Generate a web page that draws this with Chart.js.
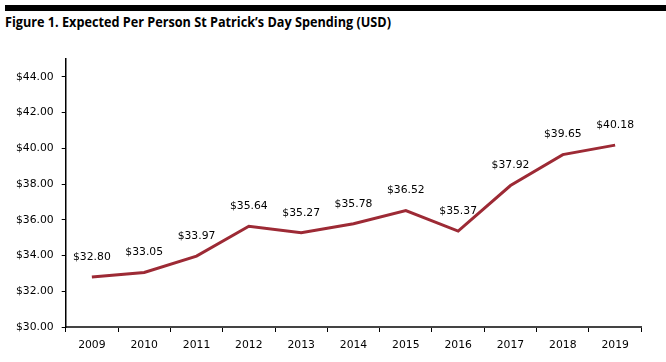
<!DOCTYPE html>
<html>
<head>
<meta charset="utf-8">
<script src="https://cdn.jsdelivr.net/npm/chart.js@4"></script>
<style>
  html, body { margin: 0; padding: 0; background: #fff; }
  #wrap { position: relative; width: 666px; height: 362px; overflow: hidden; }
  #bar { position: absolute; left: 5px; top: 5px; width: 661px; height: 6px; background: #000; }
  #title { position: absolute; left: 5px; top: 12px; font-family: "Open Sans", sans-serif; font-weight: bold; font-size: 14px; color: #000; white-space: nowrap; transform-origin: 0 0; }
  canvas { position: absolute; left: 0; top: 0; }
</style>
</head>
<body>
<div id="wrap">
  <div id="bar"></div>
  <div id="title">Figure 1. Expected Per Person St Patrick’s Day Spending (USD)</div>
  <canvas id="c" width="666" height="362"></canvas>
</div>
<script>
const years = ['2009','2010','2011','2012','2013','2014','2015','2016','2017','2018','2019'];
const spending = [32.80, 33.05, 33.97, 35.64, 35.27, 35.78, 36.52, 35.37, 37.92, 39.65, 40.18];
const yTicks = [30, 32, 34, 36, 38, 40, 42, 44];

// fit title width to reference
(function(){
  const t = document.getElementById('title');
  const w = t.getBoundingClientRect().width;
  t.style.transform = 'scaleX(' + (386 / w) + ')';
})();

const valueLabels = {
  id: 'valueLabels',
  afterDatasetsDraw(chart) {
    const ctx = chart.ctx;
    const meta = chart.getDatasetMeta(0);
    ctx.save();
    ctx.font = '10.8px "DejaVu Sans", sans-serif';
    ctx.fillStyle = '#000';
    ctx.textAlign = 'center';
    ctx.textBaseline = 'middle';
    meta.data.forEach((pt, i) => {
      ctx.fillText('$' + spending[i].toFixed(2), pt.x, pt.y - 20);
    });
    ctx.restore();
  }
};

new Chart(document.getElementById('c'), {
  type: 'line',
  data: {
    labels: years,
    datasets: [{
      data: spending,
      borderColor: '#9d2a35',
      borderWidth: 3,
      pointRadius: 0,
      tension: 0,
      fill: false
    }]
  },
  options: {
    responsive: false,
    animation: false,
    layout: { padding: { top: 59, right: 24.7, bottom: 0, left: 0 } },
    plugins: { legend: { display: false }, tooltip: { enabled: false } },
    scales: {
      x: {
        offset: true,
        grid: { display: true, drawOnChartArea: false, drawTicks: true, tickLength: 5, offset: true, color: '#000', lineWidth: 1 },
        border: { display: true, color: '#444', width: 2 },
        ticks: { color: '#000', font: { family: '"DejaVu Sans", sans-serif', size: 10.8 }, padding: 7, maxRotation: 0, autoSkip: false },
        afterFit(s) { s.height = 35; }
      },
      y: {
        min: 30, max: 45,
        afterBuildTicks(axis) { axis.ticks = yTicks.map(v => ({ value: v })); },
        grid: { display: true, drawOnChartArea: false, drawTicks: true, tickLength: 4, color: '#000', lineWidth: 1 },
        border: { display: true, color: '#000', width: 1.5 },
        ticks: {
          color: '#000', padding: 8,
          font: { family: '"DejaVu Sans", sans-serif', size: 10.8 },
          callback: v => '$' + Number(v).toFixed(2)
        },
        afterFit(s) { s.width = 65.7; }
      }
    }
  },
  plugins: [valueLabels]
});
</script>
</body>
</html>
